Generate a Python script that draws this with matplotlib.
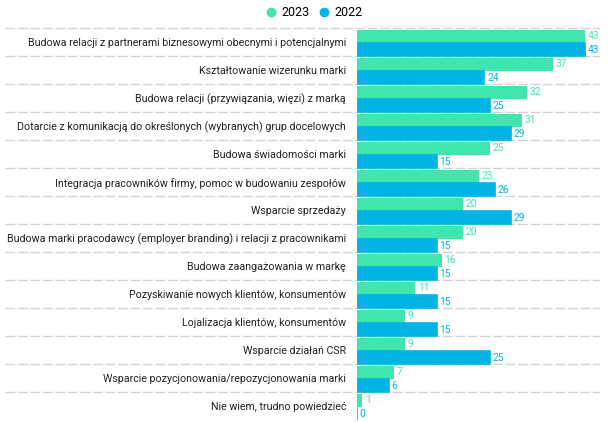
import matplotlib
matplotlib.use("Agg")
import matplotlib.pyplot as plt
from matplotlib.lines import Line2D

categories = [
    "Budowa relacji z partnerami biznesowymi obecnymi i potencjalnymi",
    "Kształtowanie wizerunku marki",
    "Budowa relacji (przywiązania, więzi) z marką",
    "Dotarcie z komunikacją do określonych (wybranych) grup docelowych",
    "Budowa świadomości marki",
    "Integracja pracowników firmy, pomoc w budowaniu zespołów",
    "Wsparcie sprzedaży",
    "Budowa marki pracodawcy (employer branding) i relacji z pracownikami",
    "Budowa zaangażowania w markę",
    "Pozyskiwanie nowych klientów, konsumentów",
    "Lojalizacja klientów, konsumentów",
    "Wsparcie działań CSR",
    "Wsparcie pozycjonowania/repozycjonowania marki",
    "Nie wiem, trudno powiedzieć",
]
values_2023 = [43, 37, 32, 31, 25, 23, 20, 20, 16, 11, 9, 9, 7, 1]
values_2022 = [43, 24, 25, 29, 15, 26, 29, 15, 15, 15, 15, 25, 6, 0]
series_names = ["2023", "2022"]

green = "#40e5b0"
blue = "#00b4e6"

plt.rcParams['font.family'] = ['Roboto', 'DejaVu Sans']

fig = plt.figure(figsize=(6.08, 4.22), dpi=100)
ax = fig.add_axes([0.5872, 0.004, 0.3997, 0.929])

n = len(categories)
pos = list(range(n))
y_green = [p + 0.28 for p in pos]
y_blue = [p + 0.76 for p in pos]

ax.barh(y_green, values_2023, height=0.46, color=green, linewidth=0)
ax.barh(y_blue, values_2022, height=0.46, color=blue, edgecolor=blue, linewidth=1.2)

# value labels at the end of each bar
for y, v in zip(y_green, values_2023):
    ax.text(v + 0.5, y, str(v), color=green, fontsize=7.3, va="center", ha="left")
for y, v in zip(y_blue, values_2022):
    ax.text(v + 0.5, y, str(v), color=blue, fontsize=7.3, va="center", ha="left")

# dashed separators between categories
for i in range(n):
    ax.axhline(i, xmin=-1.449, xmax=1.0, color="#d4d4d4", linewidth=1,
               linestyle=(0, (7, 2)), clip_on=False, zorder=0)

ax.set_xlim(0, 45.8)
ax.set_ylim(n, 0)
ax.set_yticks([p + 0.5 for p in pos])
ax.set_yticklabels(categories, fontsize=7.7, color="#222222")
ax.tick_params(axis="y", length=0, pad=8)
ax.set_xticks([])
for s in ax.spines.values():
    s.set_visible(False)

handles = [
    Line2D([], [], marker="o", linestyle="", markersize=6, color=green),
    Line2D([], [], marker="o", linestyle="", markersize=6, color=blue),
]
fig.legend(handles, series_names, loc="center", bbox_to_anchor=(0.516, 0.97),
           ncol=2, frameon=False, fontsize=9, handletextpad=0.3,
           columnspacing=0.7, handlelength=1.0)

plt.savefig("out.png", dpi=100)
